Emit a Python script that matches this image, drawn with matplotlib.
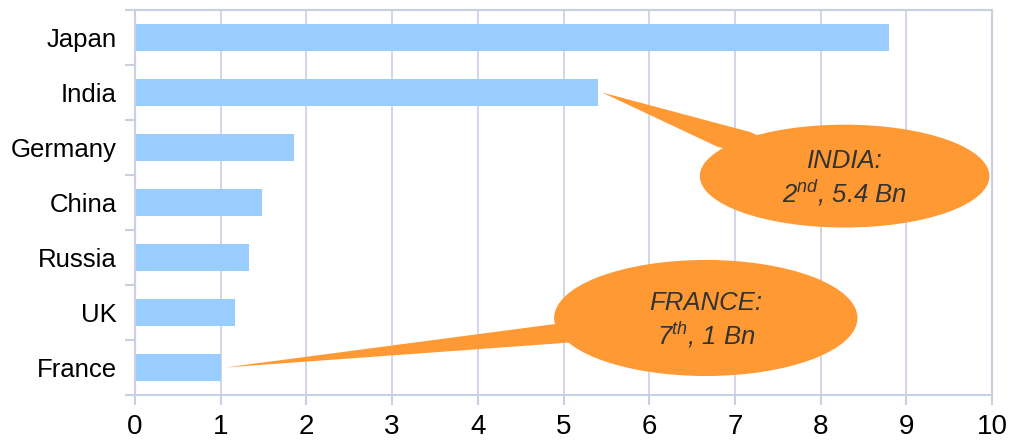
import matplotlib.pyplot as plt
import numpy as np
from matplotlib.patches import Ellipse, Polygon

plt.rcParams['font.family'] = ['Liberation Sans', 'DejaVu Sans']
plt.rcParams['mathtext.fontset'] = 'custom'
plt.rcParams['mathtext.rm'] = 'Liberation Sans:italic'
plt.rcParams['mathtext.it'] = 'Liberation Sans:italic'

countries = ['Japan', 'India', 'Germany', 'China', 'Russia', 'UK', 'France']
values = [8.8, 5.4, 1.86, 1.48, 1.33, 1.17, 1.0]
xticks = list(range(0, 11))

bar_colour = '#99CCFF'
grid_colour = '#C8D0E4'
callout_colour = '#FF9933'

fig = plt.figure(figsize=(10.09, 4.4), dpi=100)
ax = fig.add_axes([0.1338, 0.1023, 0.8494, 0.875])

y = np.arange(len(countries))
ax.barh(y, values, height=0.5, color=bar_colour, zorder=2)

ax.set_xlim(0, 10)
ax.set_ylim(len(countries) - 0.5, -0.5)
ax.set_xticks(xticks)
ax.set_xticklabels([str(t) for t in xticks], fontsize=20)

# category labels sit between the tick marks
ax.set_yticks(np.arange(-0.5, len(countries), 1.0))
ax.set_yticklabels([])
ax.set_yticks(y, minor=True)
ax.set_yticklabels(countries, minor=True, fontsize=18.5)
ax.tick_params(axis='y', which='minor', length=0, pad=13)
ax.tick_params(axis='y', which='major', length=7, color=grid_colour, width=1.5)
ax.tick_params(axis='x', length=7, color=grid_colour, width=1.5, pad=7)

ax.grid(axis='x', color=grid_colour, linewidth=1.2, zorder=0)
ax.set_axisbelow(True)
for s in ax.spines.values():
    s.set_color(grid_colour)
    s.set_linewidth(1.5)


def callout(idx, centre, size, bases, line1, line2):
    tip = (values[idx] + 0.05, idx)
    cx, cy = centre
    inner = [(bx + 0.5 * (cx - bx), by + 0.5 * (cy - by)) for bx, by in bases]
    ax.add_patch(Polygon([tip, bases[0], inner[0], inner[1], bases[1]],
                         closed=True, color=callout_colour, zorder=4, lw=0))
    ax.add_patch(Ellipse(centre, size[0], size[1], color=callout_colour,
                         zorder=5, lw=0))
    ax.text(cx, cy - 0.27, line1, ha='center', va='center', fontsize=18.5,
            style='italic', color='#333333', zorder=6)
    ax.text(cx, cy + 0.3, line2, ha='center', va='center', fontsize=18.5,
            style='italic', color='#333333', zorder=6)


callout(1, (8.28, 2.52), (3.38, 1.87), [(7.18, 1.72), (6.80, 1.99)],
        'INDIA:', '2$^{nd}$, 5.4 Bn')
callout(6, (6.66, 5.1), (3.54, 2.11), [(4.90, 5.21), (5.04, 5.55)],
        'FRANCE:', '7$^{th}$, 1 Bn')

fig.savefig('out.png', dpi=100)
